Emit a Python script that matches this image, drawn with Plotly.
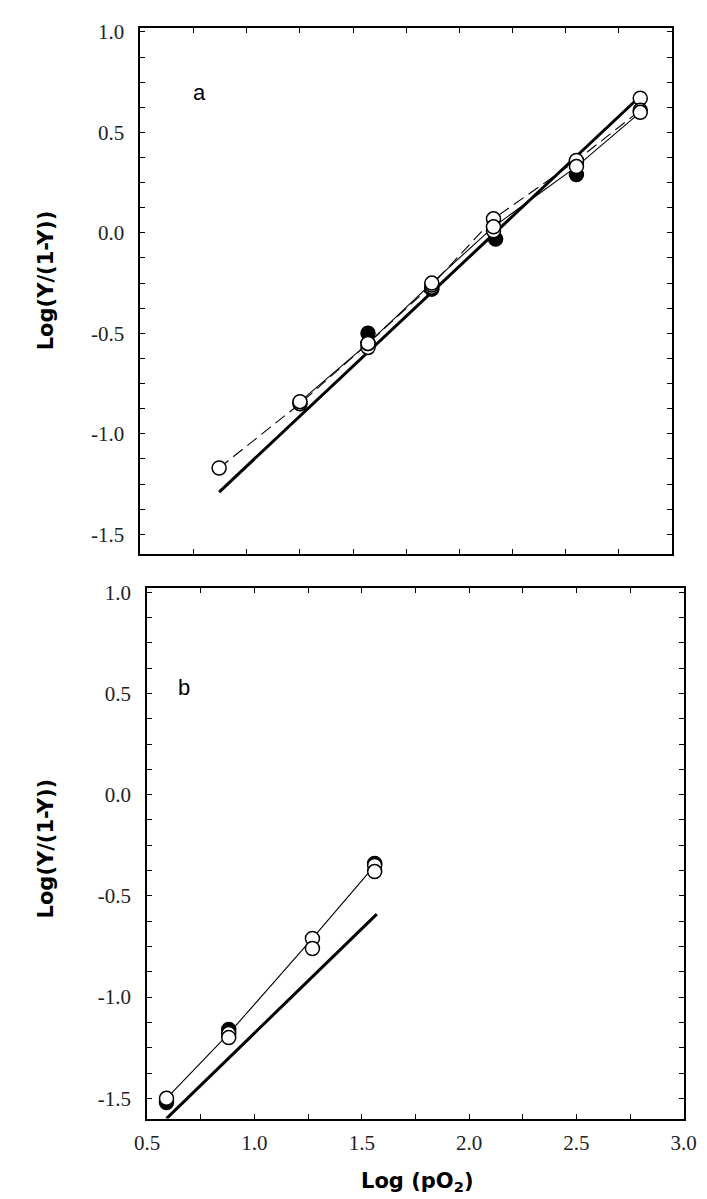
import plotly.graph_objects as go

# panel a : log(pO2) vs log(Y/(1-Y))
a_x_thin = [1.25, 1.57, 1.87, 2.16, 2.55, 2.85]
a_y_thin = [-0.84, -0.55, -0.25, 0.03, 0.33, 0.60]
a_x_dash = [0.87, 1.25, 1.57, 1.87, 2.16, 2.55, 2.85]
a_y_dash = [-1.17, -0.85, -0.55, -0.26, 0.07, 0.36, 0.61]
a_x_fill = [1.57, 1.87, 2.17, 2.55]
a_y_fill = [-0.50, -0.28, -0.03, 0.29]
a_x_open2 = [1.57, 1.87, 2.16, 2.55, 2.85]
a_y_open2 = [-0.57, -0.27, 0.01, 0.35, 0.67]
a_x_ref = [0.87, 2.85]
a_y_ref = [-1.29, 0.68]

# panel b
b_x_fill = [0.59, 0.88, 1.56]
b_y_fill = [-1.52, -1.16, -0.34]
b_x_open1 = [0.59, 0.88, 1.27, 1.56]
b_y_open1 = [-1.50, -1.18, -0.71, -0.35]
b_x_open2 = [0.88, 1.27, 1.56]
b_y_open2 = [-1.20, -0.76, -0.38]
b_x_ref = [0.59, 1.57]
b_y_ref = [-1.60, -0.59]

x_ticks = [0.5, 1.0, 1.5, 2.0, 2.5, 3.0]
y_ticks = [-1.5, -1.0, -0.5, 0.0, 0.5, 1.0]

W, H = 707, 1199
open_m = dict(size=14, color="white", line=dict(color="black", width=1.5))
fill_m = dict(size=14, color="black", line=dict(color="black", width=1.5))

fig = go.Figure()

# panel a
fig.add_trace(go.Scatter(x=a_x_ref, y=a_y_ref, mode="lines",
                         line=dict(color="black", width=3), xaxis="x", yaxis="y"))
fig.add_trace(go.Scatter(x=a_x_thin, y=a_y_thin, mode="lines",
                         line=dict(color="black", width=1.1), xaxis="x", yaxis="y"))
fig.add_trace(go.Scatter(x=a_x_dash, y=a_y_dash, mode="lines",
                         line=dict(color="black", width=1.1, dash="12px,6px"), xaxis="x", yaxis="y"))
fig.add_trace(go.Scatter(x=a_x_fill, y=a_y_fill, mode="markers", marker=fill_m, xaxis="x", yaxis="y"))
fig.add_trace(go.Scatter(x=a_x_open2, y=a_y_open2, mode="markers", marker=open_m, xaxis="x", yaxis="y"))
fig.add_trace(go.Scatter(x=a_x_dash, y=a_y_dash, mode="markers", marker=open_m, xaxis="x", yaxis="y"))
fig.add_trace(go.Scatter(x=a_x_thin, y=a_y_thin, mode="markers", marker=open_m, xaxis="x", yaxis="y"))

# panel b
fig.add_trace(go.Scatter(x=b_x_ref, y=b_y_ref, mode="lines",
                         line=dict(color="black", width=3), xaxis="x2", yaxis="y2"))
fig.add_trace(go.Scatter(x=b_x_open1, y=b_y_open1, mode="lines",
                         line=dict(color="black", width=1.1), xaxis="x2", yaxis="y2"))
fig.add_trace(go.Scatter(x=b_x_fill, y=b_y_fill, mode="markers", marker=fill_m, xaxis="x2", yaxis="y2"))
fig.add_trace(go.Scatter(x=b_x_open1, y=b_y_open1, mode="markers", marker=open_m, xaxis="x2", yaxis="y2"))
fig.add_trace(go.Scatter(x=b_x_open2, y=b_y_open2, mode="markers", marker=open_m, xaxis="x2", yaxis="y2"))

tickfont = dict(family="Liberation Serif", size=21, color="#222")
ax = dict(range=[0.5, 3.0], showgrid=False, zeroline=False, showline=True, linecolor="black",
          linewidth=1.8, mirror="ticks", ticks="inside", ticklen=5, tickcolor="black",
          tickvals=x_ticks, ticktext=[f"{v:.1f}" for v in x_ticks], tickfont=tickfont,
          ticklabelstandoff=4,
          minor=dict(dtick=0.25, ticks="inside", ticklen=5, tickcolor="black"))
ay = dict(range=[-1.6, 1.02], showgrid=False, zeroline=False, showline=True, linecolor="black",
          linewidth=1.8, mirror="ticks", ticks="inside", ticklen=5, tickcolor="black",
          tickvals=y_ticks, ticktext=[f"{v:.1f}" for v in y_ticks], tickfont=tickfont,
          ticklabelstandoff=10,
          minor=dict(dtick=0.125, ticks="inside", ticklen=5, tickcolor="black"))

fig.update_layout(
    width=W, height=H, showlegend=False,
    margin=dict(l=0, r=0, t=0, b=0),
    plot_bgcolor="white", paper_bgcolor="white",
    xaxis=dict(ax, domain=[124 / W, 676 / W], anchor="y", showticklabels=False),
    yaxis=dict(ay, domain=[1 - 542 / H, 1 - 12 / H], anchor="x"),
    xaxis2=dict(ax, domain=[131 / W, 688 / W], anchor="y2"),
    yaxis2=dict(ay, domain=[1 - 1110 / H, 1 - 576 / H], anchor="x2"),
)

title_font = dict(family="DejaVu Sans", size=21, color="black")
fig.add_annotation(text="<b>Log(Y/(1-Y))</b>", xref="paper", yref="paper",
                   x=26 / W, y=1 - 266 / H, xanchor="center", yanchor="middle",
                   textangle=-90, showarrow=False, font=title_font)
fig.add_annotation(text="<b>Log(Y/(1-Y))</b>", xref="paper", yref="paper",
                   x=26 / W, y=1 - 838 / H, xanchor="center", yanchor="middle",
                   textangle=-90, showarrow=False, font=title_font)
fig.add_annotation(text="<b>Log (pO<sub>2</sub>)</b>", xref="paper", yref="paper",
                   x=411 / W, y=1 - 1174 / H, xanchor="center", yanchor="middle",
                   showarrow=False, font=title_font)
fig.add_annotation(text="a", x=0.78, y=0.70, xref="x", yref="y", showarrow=False,
                   font=dict(family="Liberation Sans", size=22, color="black"))
fig.add_annotation(text="b", x=0.67, y=0.53, xref="x2", yref="y2", showarrow=False,
                   font=dict(family="Liberation Sans", size=22, color="black"))

fig.write_html("out.html")
